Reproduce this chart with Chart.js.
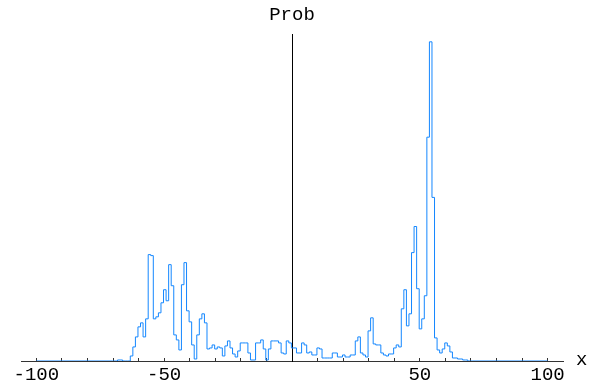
<!DOCTYPE html>
<html>
<head>
<meta charset="utf-8">
<script src="https://cdn.jsdelivr.net/npm/chart.js@4"></script>
<style>
  body { margin: 0; background: #fff; }
</style>
</head>
<body>
<canvas id="probChart" width="595" height="381"></canvas>
<script>
// histogram bins: first bin starts at binStart, each binWidth wide
const binStart = -70.25;
const binWidth = 1;
const probValues = [
    0, 0, 1, 1, 0, 0, 0, 5, 14, 24,          // -70 .. -61
    34, 38, 24, 42, 106, 105, 42, 44, 48, 58, // -60 .. -51
    71, 60, 96, 75, 26, 21, 11, 76, 98, 50,   // -50 .. -41
    39, 16, 2, 26, 42, 47, 38, 12, 13, 16,    // -40 .. -31
    12, 14, 13, 5, 15, 20, 13, 7, 4, 10,      // -30 .. -21
    18, 18, 18, 8, 1, 1, 18, 18, 21, 12,      // -20 .. -11
    1, 12, 20, 20, 20, 18, 8, 7, 20, 18,      // -10 .. -1
    13, 13, 8, 8, 18, 16, 8, 9, 6, 6,         // 0 .. 9
    13, 12, 3, 3, 3, 3, 8, 8, 4, 4,           // 10 .. 19
    6, 4, 4, 6, 6, 20, 24, 8, 6, 4,           // 20 .. 29
    30, 43, 17, 16, 16, 8, 6, 5, 7, 7,        // 30 .. 39
    13, 16, 14, 52, 71, 35, 47, 108, 134, 72, // 40 .. 49
    32, 42, 65, 223, 318, 163, 23, 11, 8, 12, // 50 .. 59
    18, 15, 9, 3, 3, 2, 2, 1, 1, 0,           // 60 .. 69
    0                                          // 70
];
const rangeX = [-100, 100];
const labeledTicks = [-100, -50, 50, 100];
const axisX = [-106, 106];
const axisYMax = 325;

const points = [{ x: rangeX[0], y: 0 }];
probValues.forEach((v, i) => points.push({ x: binStart + i * binWidth, y: v }));
points.push({ x: binStart + probValues.length * binWidth, y: 0 });
points.push({ x: rangeX[1], y: 0 });

const monoFont = { family: "'Liberation Mono', 'Courier New', monospace", size: 19, weight: 'normal', lineHeight: 1.2 };

// "x" label at the right end of the horizontal axis
const axisLabelX = {
    id: 'axisLabelX',
    afterDraw(chart) {
        const ctx = chart.ctx;
        const y = chart.scales.y.getPixelForValue(0);
        ctx.save();
        ctx.font = "19px 'Liberation Mono', 'Courier New', monospace";
        ctx.fillStyle = '#000';
        ctx.textAlign = 'left';
        ctx.textBaseline = 'middle';
        ctx.fillText('x', chart.chartArea.right + 13, y - 1);
        ctx.restore();
    }
};

new Chart(document.getElementById('probChart'), {
    type: 'line',
    data: {
        datasets: [{
            data: points,
            stepped: 'before',
            borderColor: 'rgb(20,135,255)',
            borderWidth: 1,
            pointRadius: 0,
            fill: false
        }]
    },
    options: {
        responsive: false,
        animation: false,
        layout: { padding: { left: 21, right: 32, top: 0, bottom: 20 } },
        plugins: {
            legend: { display: false },
            tooltip: { enabled: false },
            title: {
                display: true,
                text: 'Prob',
                color: '#000',
                font: monoFont,
                padding: { top: 4, bottom: 8 }
            }
        },
        scales: {
            x: {
                type: 'linear',
                position: { y: 0 },
                min: axisX[0],
                max: axisX[1],
                grid: { drawOnChartArea: false, drawTicks: true, tickLength: -4, color: '#333' },
                border: { display: true, color: '#333', width: 1 },
                ticks: {
                    stepSize: 10,
                    includeBounds: false,
                    autoSkip: false,
                    maxRotation: 0,
                    padding: 7,
                    color: '#000',
                    font: monoFont,
                    callback: v => labeledTicks.includes(v) ? String(v) : ''
                }
            },
            y: {
                type: 'linear',
                position: { x: 0 },
                min: 0,
                max: axisYMax,
                grid: { drawOnChartArea: false, drawTicks: false },
                border: { display: true, color: '#000', width: 1 },
                ticks: { display: false }
            }
        }
    },
    plugins: [axisLabelX]
});
</script>
</body>
</html>
